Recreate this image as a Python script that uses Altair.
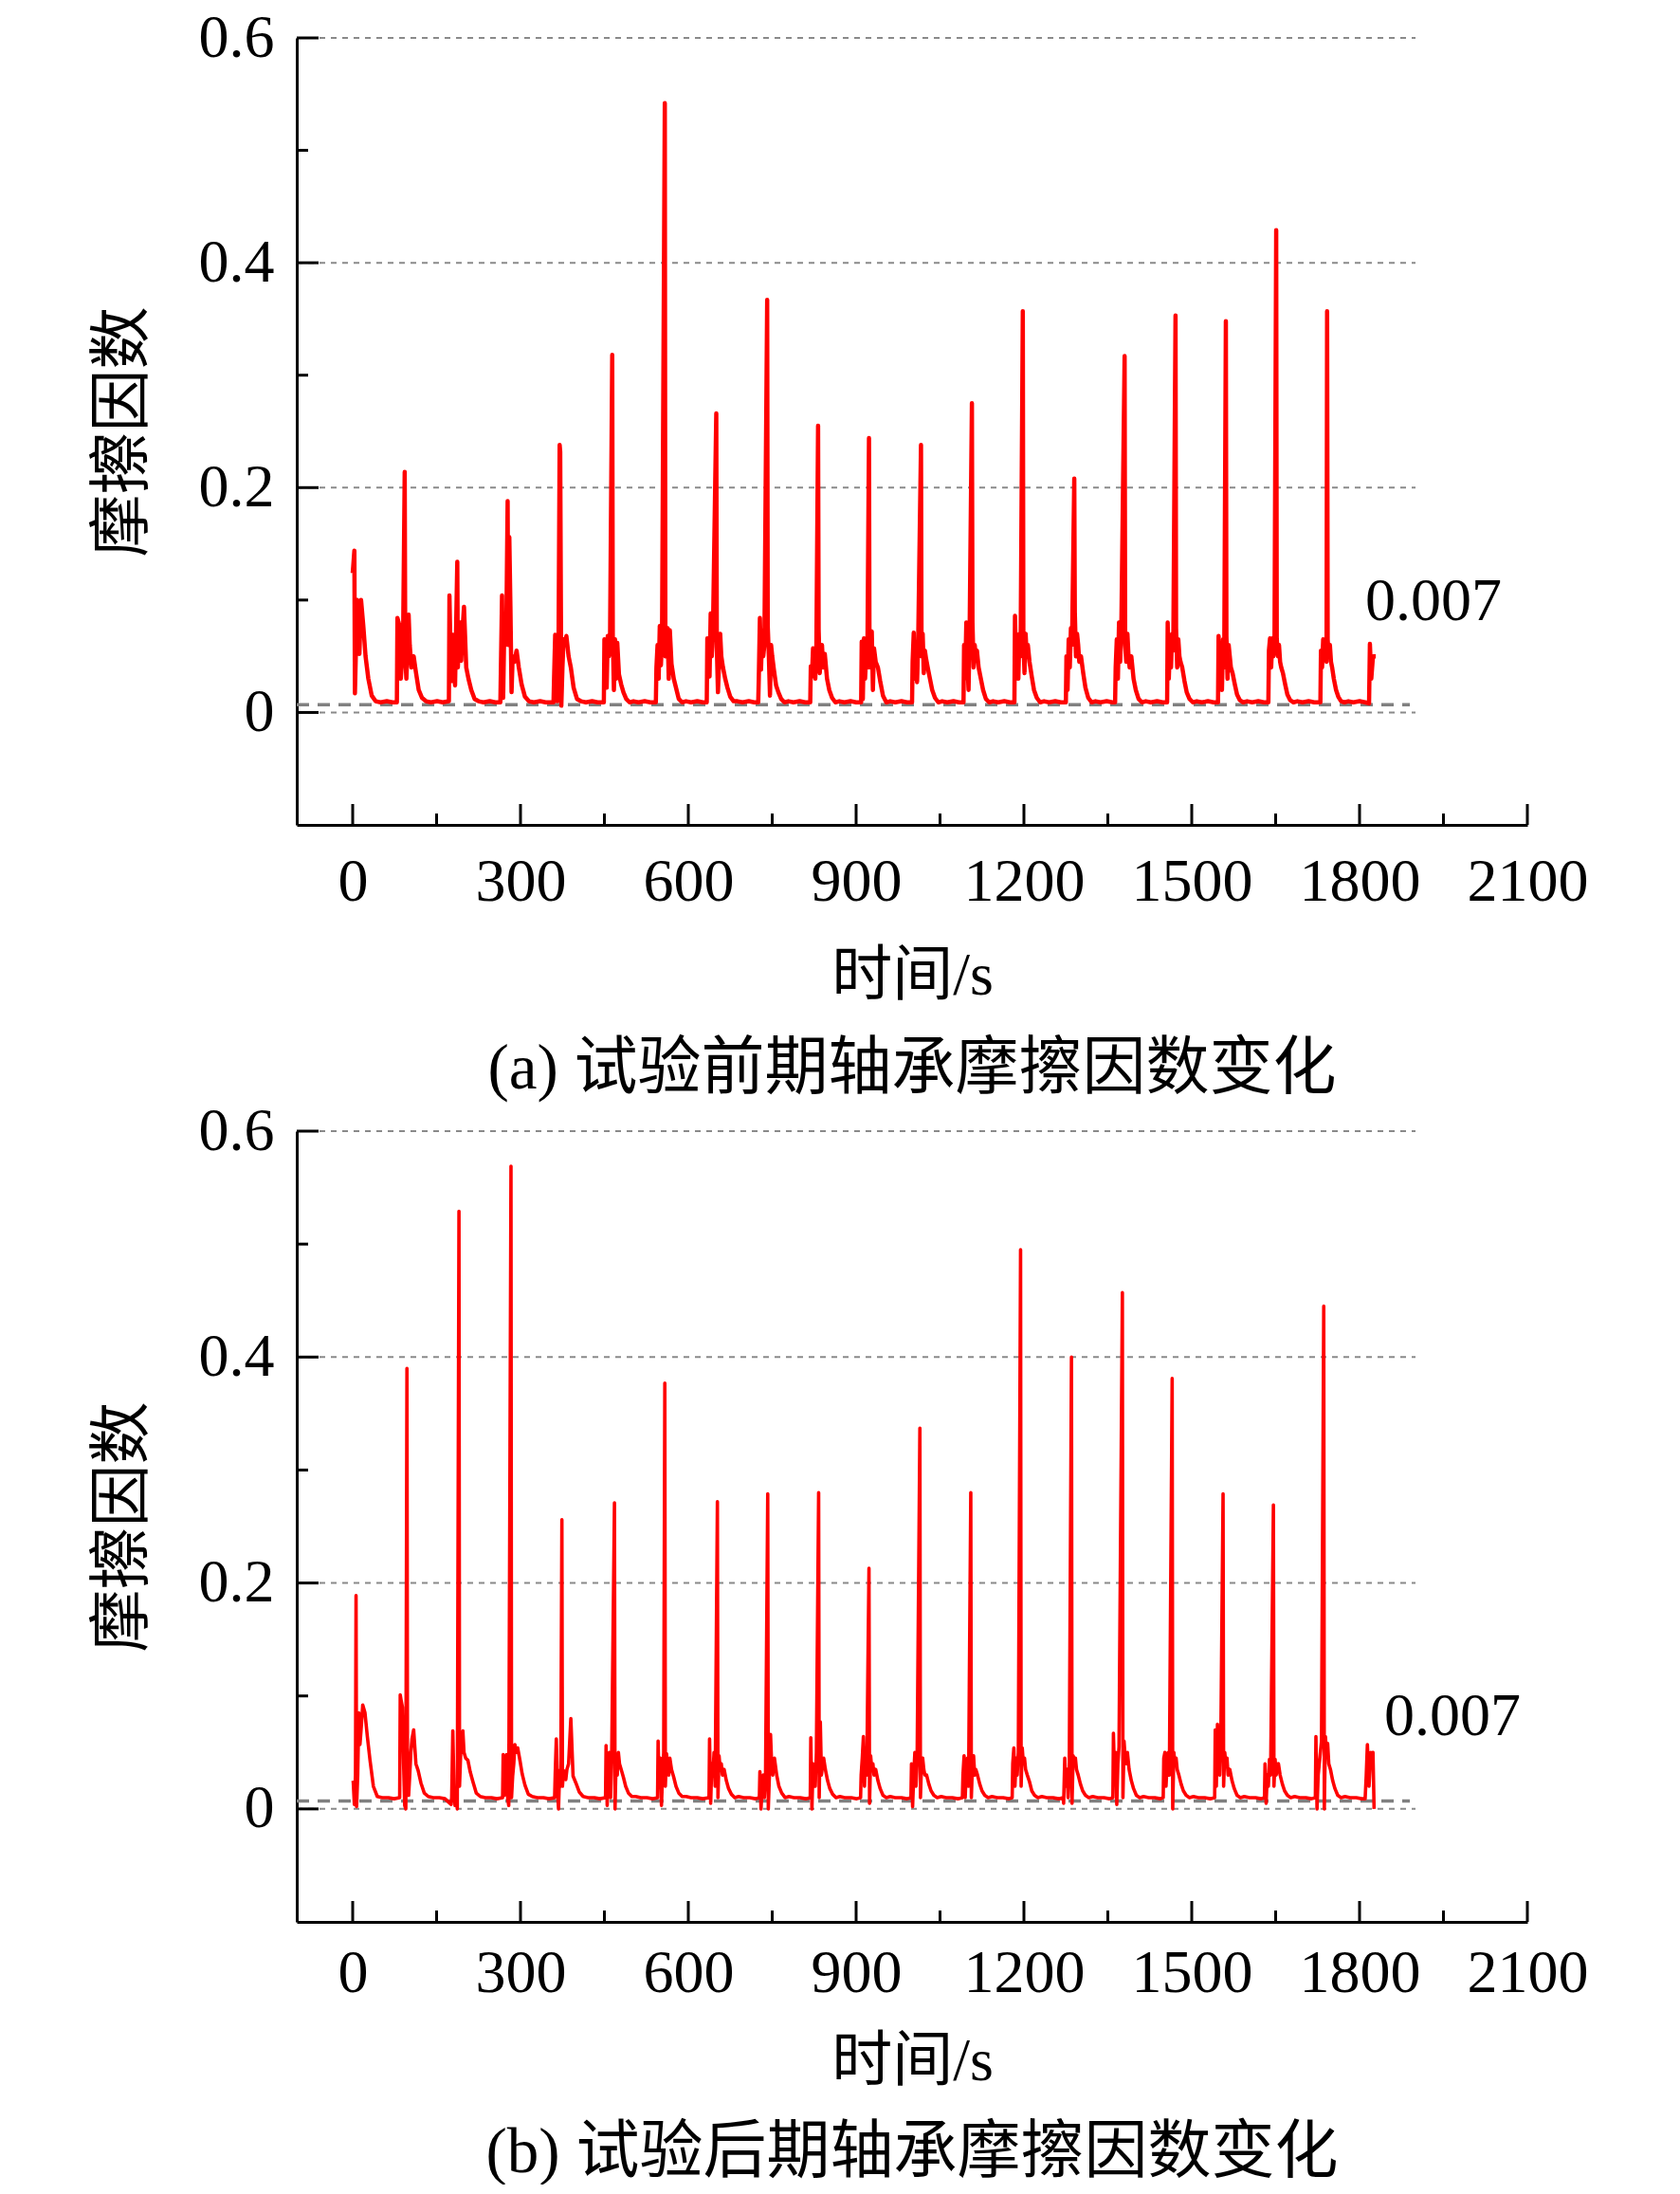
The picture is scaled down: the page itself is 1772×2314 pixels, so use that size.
import altair as alt
import pandas as pd

# ---------------- data ----------------
# offsets (s) used for the points inside every cycle
PRE_OFF = [0, 1, 3, 5, 7, 9, 11]            # after cycle start, before the spike
POST_OFF = [1, 3, 5, 7, 9, 12, 16, 20, 25, 31]  # after the spike
BASE_OFF = [38, 47, 58, 68]                 # baseline after the spike

# ---- (a) early test ----
A_start = [0, 79, 172, 264, 359, 449, 542, 633, 725, 818, 909, 1000, 1092, 1183,
           1275, 1363, 1456, 1547, 1637, 1730]
A_peak_t = [3, 93, 187, 277, 370, 464, 558, 650, 741, 832, 923, 1016, 1107, 1198,
            1290, 1380, 1471, 1561, 1651, 1742]
A_peak = [0.144, 0.214, 0.134, 0.188, 0.238, 0.318, 0.542, 0.266, 0.367, 0.255,
          0.244, 0.238, 0.275, 0.357, 0.208, 0.317, 0.353, 0.348, 0.429, 0.357]
A_pre = [
    [0.124, 0.130],
    [0.009, 0.084, 0.080, 0.077, 0.030, 0.045, 0.060],
    [0.010, 0.104, 0.050, 0.028, 0.069, 0.045, 0.024],
    [0.009, 0.040, 0.104, 0.013, 0.075, 0.060, 0.090],
    [0.009, 0.030, 0.069, 0.050, 0.010, 0.060, 0.050],
    [0.009, 0.065, 0.030, 0.022, 0.068, 0.050, 0.060],
    [0.009, 0.040, 0.060, 0.030, 0.077, 0.042, 0.065],
    [0.009, 0.066, 0.040, 0.032, 0.088, 0.050, 0.070],
    [0.009, 0.030, 0.084, 0.038, 0.073, 0.050, 0.060],
    [0.009, 0.041, 0.032, 0.057, 0.045, 0.030, 0.060],
    [0.009, 0.063, 0.012, 0.066, 0.030, 0.050, 0.040],
    [0.009, 0.045, 0.071, 0.030, 0.060, 0.027, 0.065],
    [0.009, 0.060, 0.030, 0.080, 0.045, 0.020, 0.075],
    [0.009, 0.086, 0.040, 0.060, 0.030, 0.070, 0.050],
    [0.009, 0.050, 0.020, 0.065, 0.040, 0.075, 0.060],
    [0.009, 0.040, 0.065, 0.030, 0.080, 0.045, 0.070],
    [0.009, 0.080, 0.030, 0.060, 0.040, 0.070, 0.055],
    [0.009, 0.068, 0.030, 0.060, 0.020, 0.065, 0.040],
    [0.009, 0.055, 0.066, 0.040, 0.066, 0.050, 0.066],
    [0.009, 0.055, 0.040, 0.065, 0.050, 0.060, 0.045],
]
A_post = [
    [0.017, 0.060, 0.100, 0.070, 0.052, 0.100, 0.077, 0.050, 0.030, 0.015],
    [0.050, 0.030, 0.057, 0.087, 0.060, 0.040, 0.050, 0.036, 0.020, 0.013],
    [0.040, 0.065, 0.080, 0.046, 0.070, 0.094, 0.040, 0.030, 0.020, 0.012],
    [0.060, 0.156, 0.094, 0.018, 0.050, 0.045, 0.055, 0.040, 0.025, 0.014],
    [0.232, 0.006, 0.040, 0.065, 0.060, 0.068, 0.050, 0.040, 0.022, 0.012],
    [0.068, 0.020, 0.065, 0.030, 0.062, 0.034, 0.025, 0.018, 0.012, 0.009],
    [0.050, 0.070, 0.075, 0.030, 0.073, 0.043, 0.030, 0.022, 0.012, 0.009],
    [0.058, 0.018, 0.045, 0.070, 0.050, 0.040, 0.030, 0.022, 0.014, 0.010],
    [0.077, 0.050, 0.015, 0.060, 0.050, 0.038, 0.024, 0.018, 0.012, 0.009],
    [0.074, 0.035, 0.050, 0.060, 0.040, 0.052, 0.030, 0.020, 0.013, 0.009],
    [0.040, 0.060, 0.072, 0.020, 0.057, 0.045, 0.040, 0.028, 0.015, 0.009],
    [0.050, 0.070, 0.035, 0.055, 0.048, 0.040, 0.030, 0.020, 0.013, 0.009],
    [0.080, 0.040, 0.060, 0.050, 0.055, 0.040, 0.030, 0.020, 0.012, 0.009],
    [0.065, 0.035, 0.070, 0.050, 0.060, 0.045, 0.032, 0.020, 0.013, 0.009],
    [0.089, 0.050, 0.070, 0.060, 0.045, 0.050, 0.035, 0.022, 0.013, 0.009],
    [0.060, 0.045, 0.070, 0.050, 0.040, 0.050, 0.030, 0.020, 0.012, 0.009],
    [0.075, 0.040, 0.065, 0.050, 0.045, 0.040, 0.028, 0.018, 0.012, 0.009],
    [0.068, 0.030, 0.060, 0.050, 0.040, 0.035, 0.025, 0.016, 0.011, 0.009],
    [0.066, 0.050, 0.060, 0.045, 0.040, 0.035, 0.025, 0.016, 0.011, 0.009],
    [0.065, 0.050, 0.060, 0.045, 0.040, 0.030, 0.020, 0.014, 0.010, 0.009],
]
A_base = [0.010, 0.009, 0.010, 0.009]
A_end_t = [1817, 1818.5, 1821, 1824, 1829]
A_end_v = [0.008, 0.061, 0.030, 0.050, 0.050]

# ---- (b) late test ----
B_start = [0, 84, 176, 268, 361, 452, 545, 637, 727, 818, 908, 998, 1090, 1179,
           1270, 1359, 1449, 1541, 1630, 1721]
B_peak_t = [6, 97, 190, 283, 374, 468, 558, 652, 742, 833, 923, 1014, 1105, 1194,
            1285, 1376, 1465, 1556, 1646, 1736]
B_peak = [0.189, 0.390, 0.529, 0.569, 0.256, 0.271, 0.377, 0.272, 0.279, 0.280,
          0.213, 0.337, 0.280, 0.495, 0.400, 0.457, 0.381, 0.279, 0.269, 0.445]
B_pre = [
    [0.025, 0.024, 0.004, 0.030],
    [0.010, 0.101, 0.095, 0.090, 0.040, 0.003, 0.000],
    [0.004, 0.010, 0.069, 0.020, 0.003, 0.010, 0.000],
    [0.010, 0.048, 0.012, 0.030, 0.048, 0.010, 0.003],
    [0.010, 0.030, 0.062, 0.020, 0.000, 0.034, 0.020],
    [0.010, 0.056, 0.003, 0.040, 0.050, 0.010, 0.045],
    [0.010, 0.060, 0.020, 0.045, 0.003, 0.030, 0.050],
    [0.010, 0.062, 0.005, 0.040, 0.030, 0.050, 0.020],
    [0.010, 0.033, 0.000, 0.020, 0.030, 0.010, 0.025],
    [0.010, 0.063, 0.000, 0.040, 0.030, 0.020, 0.050],
    [0.010, 0.030, 0.045, 0.064, 0.020, 0.050, 0.030],
    [0.010, 0.040, 0.002, 0.030, 0.050, 0.020, 0.040],
    [0.010, 0.030, 0.047, 0.010, 0.035, 0.045, 0.020],
    [0.010, 0.040, 0.054, 0.020, 0.045, 0.030, 0.050],
    [0.010, 0.005, 0.045, 0.020, 0.035, 0.010, 0.030],
    [0.010, 0.067, 0.030, 0.050, 0.004, 0.040, 0.055],
    [0.010, 0.045, 0.050, 0.020, 0.040, 0.050, 0.030],
    [0.010, 0.070, 0.020, 0.075, 0.040, 0.030, 0.060],
    [0.010, 0.040, 0.005, 0.030, 0.020, 0.044, 0.030],
    [0.010, 0.064, 0.000, 0.030, 0.040, 0.050, 0.060],
]
B_post = [
    [0.002, 0.030, 0.085, 0.057, 0.070, 0.092, 0.085, 0.065, 0.043, 0.020],
    [0.020, 0.012, 0.030, 0.050, 0.062, 0.070, 0.040, 0.034, 0.023, 0.014],
    [0.020, 0.048, 0.060, 0.069, 0.050, 0.045, 0.043, 0.033, 0.024, 0.014],
    [0.010, 0.029, 0.040, 0.057, 0.050, 0.054, 0.043, 0.031, 0.021, 0.013],
    [0.020, 0.034, 0.030, 0.026, 0.035, 0.040, 0.080, 0.029, 0.023, 0.015],
    [0.000, 0.045, 0.030, 0.050, 0.040, 0.035, 0.028, 0.020, 0.014, 0.011],
    [0.020, 0.049, 0.040, 0.030, 0.045, 0.035, 0.028, 0.020, 0.014, 0.011],
    [0.010, 0.047, 0.035, 0.040, 0.030, 0.035, 0.025, 0.018, 0.013, 0.010],
    [0.000, 0.030, 0.066, 0.040, 0.030, 0.045, 0.030, 0.020, 0.014, 0.010],
    [0.010, 0.077, 0.030, 0.038, 0.045, 0.035, 0.025, 0.018, 0.013, 0.010],
    [0.005, 0.047, 0.035, 0.040, 0.030, 0.035, 0.025, 0.018, 0.012, 0.010],
    [0.010, 0.041, 0.045, 0.035, 0.030, 0.030, 0.022, 0.016, 0.012, 0.010],
    [0.010, 0.040, 0.047, 0.030, 0.035, 0.030, 0.022, 0.016, 0.012, 0.010],
    [0.020, 0.054, 0.040, 0.045, 0.035, 0.030, 0.024, 0.016, 0.012, 0.010],
    [0.005, 0.047, 0.040, 0.045, 0.035, 0.030, 0.022, 0.016, 0.012, 0.010],
    [0.010, 0.060, 0.045, 0.040, 0.050, 0.035, 0.025, 0.018, 0.012, 0.010],
    [0.000, 0.050, 0.040, 0.045, 0.035, 0.030, 0.022, 0.016, 0.012, 0.010],
    [0.020, 0.050, 0.040, 0.045, 0.030, 0.035, 0.025, 0.018, 0.012, 0.010],
    [0.020, 0.044, 0.030, 0.037, 0.040, 0.030, 0.022, 0.016, 0.012, 0.010],
    [0.000, 0.064, 0.050, 0.058, 0.040, 0.035, 0.025, 0.018, 0.012, 0.010],
]
B_base = [0.011, 0.010, 0.010, 0.009]
B_end_t = [1810, 1812, 1814, 1817, 1820, 1822, 1824, 1826]
B_end_v = [0.009, 0.030, 0.057, 0.020, 0.050, 0.045, 0.050, 0.000]

X_MAJOR = [0, 300, 600, 900, 1200, 1500, 1800, 2100]
X_MINOR = [150, 450, 750, 1050, 1350, 1650, 1950]
Y_MAJOR = [0, 0.2, 0.4, 0.6]
Y_MINOR = [0.1, 0.3, 0.5]
GRID_V = [0, 0.2, 0.4, 0.6]
GRID_END = 1900
MEAN_V = 0.007
MEAN_END = 1890

CAPTION_A = "(a) 试验前期轴承摩擦因数变化"
CAPTION_B = "(b) 试验后期轴承摩擦因数变化"
X_TITLE = "时间/s"
Y_TITLE = "摩擦因数"
MEAN_LABEL = "0.007"

SERIF = "Liberation Serif, Noto Sans CJK SC"


def build_series(start, peak_t, peak, pre, post, base, end_t, end_v):
    ts, vs = [], []
    for s, pt, pv, pr, po in zip(start, peak_t, peak, pre, post):
        for off, val in zip(PRE_OFF, pr):
            if s + off < pt - 0.5:
                ts.append(s + off)
                vs.append(val)
        ts.append(pt)
        vs.append(pv)
        for off, val in zip(POST_OFF, po):
            ts.append(pt + off)
            vs.append(val)
        for off, val in zip(BASE_OFF, base):
            ts.append(pt + off)
            vs.append(val)
    ts += end_t
    vs += end_v
    return pd.DataFrame({"t": ts, "v": vs})


def panel(series, caption, label_t, label_v, h, lw, lab_pad, tit_pad, cap_off):
    xaxis = alt.Axis(values=X_MAJOR, format="d", title=X_TITLE, grid=False,
                     labelFont="Liberation Serif", labelFontSize=64, labelColor="black",
                     labelPadding=lab_pad, labelFlush=False, labelOverlap=False,
                     ticks=True, tickSize=0, tickOpacity=0,
                     domainColor="black", domainWidth=3,
                     titleFont=SERIF, titleFontSize=64, titleFontWeight="normal",
                     titleColor="black", titlePadding=tit_pad)
    yaxis = alt.Axis(values=Y_MAJOR, format="~g", title=Y_TITLE, grid=False,
                     labelFont="Liberation Serif", labelFontSize=64, labelColor="black",
                     labelPadding=24, labelFlush=False, labelOverlap=False,
                     ticks=True, tickSize=0, tickOpacity=0,
                     domainColor="black", domainWidth=3,
                     titleFont=SERIF, titleFontSize=66, titleFontWeight="normal",
                     titleColor="black", titlePadding=46)
    xs = alt.Scale(domain=[-100, 2100], nice=False, zero=False)
    ys = alt.Scale(domain=[-0.1, 0.6], nice=False, zero=False)

    def X(f="t"):
        return alt.X(f"{f}:Q", scale=xs, axis=xaxis)

    def Y(f="v"):
        return alt.Y(f"{f}:Q", scale=ys, axis=yaxis)

    grid_df = pd.DataFrame({"v": GRID_V, "t": [-100] * len(GRID_V), "t2": [GRID_END] * len(GRID_V)})
    mean_df = pd.DataFrame({"v": [MEAN_V], "t": [-100], "t2": [MEAN_END]})

    grid = alt.Chart(grid_df).mark_rule(color="#8a8a8a", strokeWidth=2, strokeDash=[6, 6]).encode(
        x=X(), x2="t2:Q", y=Y())
    mean = alt.Chart(mean_df).mark_rule(color="#808080", strokeWidth=3.5, strokeDash=[13, 9]).encode(
        x=X(), x2="t2:Q", y=Y())
    line = alt.Chart(series).mark_line(color="#ff0000", strokeWidth=lw, strokeJoin="round").encode(
        x=X(), y=Y())
    ymaj = alt.Chart(pd.DataFrame({"v": Y_MAJOR})).mark_rule(color="black", strokeWidth=3).encode(
        x=alt.value(0), x2=alt.value(23), y=Y())
    ymin = alt.Chart(pd.DataFrame({"v": Y_MINOR})).mark_rule(color="black", strokeWidth=3).encode(
        x=alt.value(0), x2=alt.value(12), y=Y())
    xmaj = alt.Chart(pd.DataFrame({"t": X_MAJOR})).mark_rule(color="black", strokeWidth=3).encode(
        x=X(), y=alt.value(h), y2=alt.value(h - 22))
    xmin = alt.Chart(pd.DataFrame({"t": X_MINOR})).mark_rule(color="black", strokeWidth=3).encode(
        x=X(), y=alt.value(h), y2=alt.value(h - 12))
    lab = alt.Chart(pd.DataFrame({"t": [label_t], "v": [label_v], "s": [MEAN_LABEL]})).mark_text(
        align="left", baseline="middle", font="Liberation Serif", fontSize=64, color="black").encode(
        x=X(), y=Y(), text="s:N")

    return alt.layer(grid, mean, line, ymaj, ymin, xmaj, xmin, lab).properties(
        width=1298, height=h,
        title=alt.TitleParams(text=caption, orient="bottom", anchor="middle", fontSize=67,
                              font=SERIF, fontWeight="normal", color="black", offset=cap_off))


sa = build_series(A_start, A_peak_t, A_peak, A_pre, A_post, A_base, A_end_t, A_end_v)
sb = build_series(B_start, B_peak_t, B_peak, B_pre, B_post, B_base, B_end_t, B_end_v)

pa = panel(sa, CAPTION_A, 1810, 0.098, 830, 4.5, 28, 35, 34)
pb = panel(sb, CAPTION_B, 1844, 0.081, 834, 3.6, 22, 29, 32)

chart = alt.vconcat(pa, pb, spacing=0).properties(
    padding={"left": 88, "top": 0, "right": 5, "bottom": 0}
).configure(background="white", view=alt.ViewConfig(stroke="transparent", strokeWidth=0))

chart.save("out.html", embed_options={"renderer": "svg", "actions": False})
